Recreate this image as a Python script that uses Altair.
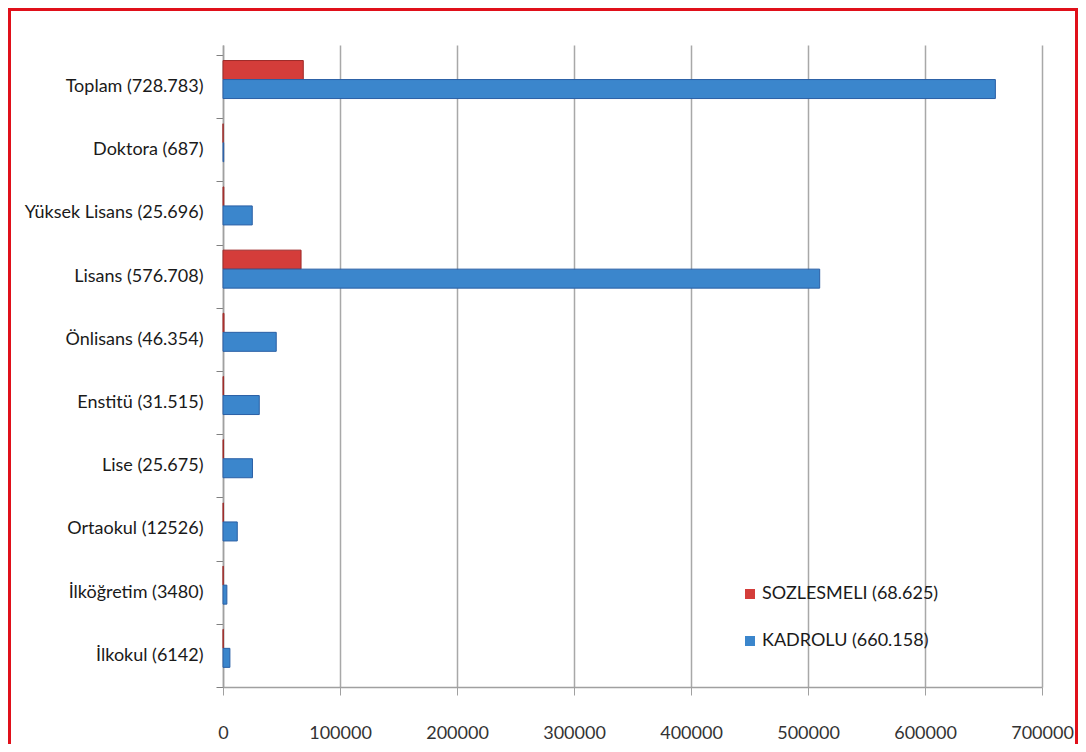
import altair as alt
import pandas as pd

categories = ["Toplam (728.783)", "Doktora (687)", "Yüksek Lisans (25.696)", "Lisans (576.708)",
              "Önlisans (46.354)", "Enstitü (31.515)", "Lise (25.675)", "Ortaokul (12526)",
              "İlköğretim (3480)", "İlkokul (6142)"]
kadrolu = [660158, 600, 25000, 510000, 45500, 31000, 25200, 12200, 3300, 5900]
sozlesmeli = [68625, 87, 696, 66708, 854, 515, 475, 326, 180, 242]
series = ["SOZLESMELI (68.625)", "KADROLU (660.158)"]
colors = ["#d43d3a", "#3b86cc"]
x_ticks = [0, 100000, 200000, 300000, 400000, 500000, 600000, 700000]

rows = []
for c, s, k in zip(categories, sozlesmeli, kadrolu):
    rows.append({"cat": c, "series": series[0], "value": s})
    rows.append({"cat": c, "series": series[1], "value": k})
df = pd.DataFrame(rows)

W, H = 819, 642
PL, PR = 215, 36
FONT = "Lato"

bars = alt.Chart(df).mark_bar(strokeWidth=1).encode(
    y=alt.Y("cat:N", sort=categories,
            scale=alt.Scale(paddingInner=0, paddingOuter=0.079, align=1),
            axis=alt.Axis(title=None, tickBand="extent", labelFontSize=18, labelFont=FONT,
                          labelColor="#1a1a1a", labelPadding=13, tickSize=7,
                          tickColor="#808080", domainColor="#a0a0a0", domainWidth=1.5,
                          grid=False)),
    yOffset=alt.YOffset("series:N", sort=series,
                        scale=alt.Scale(paddingInner=0, paddingOuter=0.663, align=0.22)),
    x=alt.X("value:Q", scale=alt.Scale(domain=[0, 700000], nice=False),
            axis=alt.Axis(title=None, values=x_ticks, format="d", labelFontSize=18,
                          labelFont=FONT, labelColor="#333333", labelPadding=29,
                          labelFlush=False, tickSize=8, tickColor="#a0a0a0",
                          domainColor="#a0a0a0", domainWidth=1.5,
                          gridColor="#a8a8a8", gridWidth=1.5)),
    color=alt.Color("series:N", sort=series,
                    scale=alt.Scale(domain=series, range=colors),
                    legend=alt.Legend(title=None, orient="none", legendX=518, legendY=540,
                                      symbolType="square", symbolSize=100,
                                      labelFontSize=18, labelFont=FONT, labelColor="#1a1a1a",
                                      labelOffset=3, labelLimit=400, rowPadding=29,
                                      symbolStrokeWidth=0)),
    stroke=alt.Stroke("series:N", sort=series,
                      scale=alt.Scale(domain=series, range=["#9e2a28", "#2a5fa5"]),
                      legend=None),
)

frame = alt.Chart(alt.Data(values=[{}])).mark_rect(
    filled=False, stroke="#e0101a", strokeWidth=3
).encode(
    x=alt.value(-PL + 1.5), x2=alt.value(W + PR - 1.5),
    y=alt.value(-35.5), y2=alt.value(H + 90),
)

chart = alt.layer(bars, frame).properties(
    width=W, height=H,
    autosize=alt.AutoSizeParams(type="none"),
    padding={"left": PL, "top": 37, "right": PR, "bottom": 57},
    background="white",
).configure_view(stroke=None)

chart.save("out.html", embed_options={"renderer": "svg", "actions": False})
